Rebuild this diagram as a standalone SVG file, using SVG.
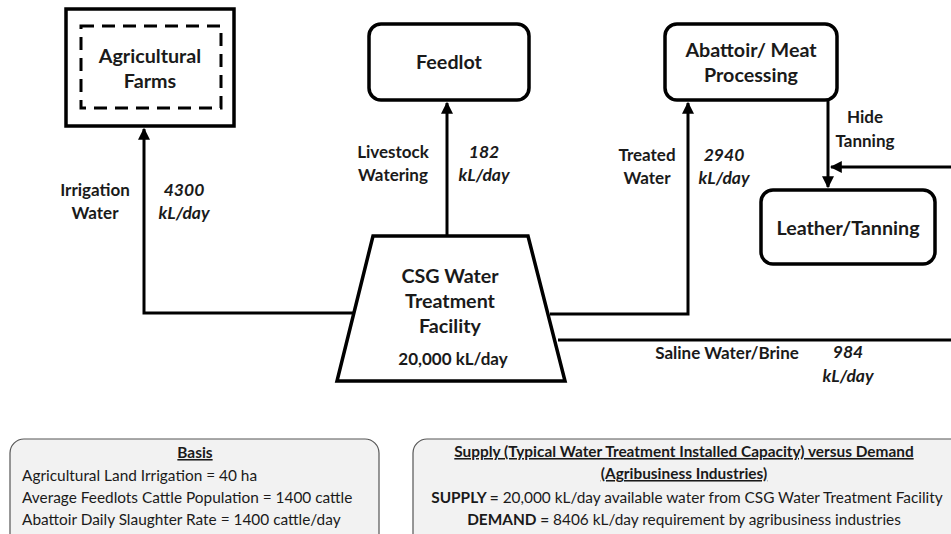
<svg xmlns="http://www.w3.org/2000/svg" width="951" height="534" viewBox="0 0 951 534">
<style>
text{font-family:Lato,"Liberation Sans",sans-serif;fill:#1a1a1a}
.n{font-size:19.7px;font-weight:bold;text-anchor:middle}
.l{font-size:17px;font-weight:bold;text-anchor:middle}
.v{font-size:17.5px;font-weight:bold;font-style:italic;text-anchor:middle}
.box{fill:#fff;stroke:#000;stroke-width:3.5}
.c{fill:none;stroke:#000;stroke-width:3}
.note{fill:#f2f2f2;stroke:#555;stroke-width:1.2}
.t{font-size:15.4px}
.h{font-size:15.4px;font-weight:bold;text-decoration:underline;text-anchor:middle}
</style>
<defs>
<marker id="ah" viewBox="0 0 10 10" refX="9" refY="5" markerWidth="4" markerHeight="4" orient="auto" markerUnits="strokeWidth">
<path d="M0,0 L10,5 L0,10 z" fill="#000"/>
</marker>
</defs>
<g id="connectors">
<path class="c" d="M353,313 H144 V129" marker-end="url(#ah)"/>
<path class="c" d="M447,236 V103" marker-end="url(#ah)"/>
<path class="c" d="M550,314 H688 V103" marker-end="url(#ah)"/>
<path class="c" d="M828,100 V187" marker-end="url(#ah)"/>
<path class="c" d="M951,167 H831" marker-end="url(#ah)"/>
<path class="c" d="M558,340 H951"/>
</g>
<g id="agricultural-farms">
<rect class="box" x="66" y="9" width="168" height="117"/>
<rect x="81" y="26" width="140" height="82" fill="none" stroke="#000" stroke-width="3" stroke-dasharray="13,8"/>
<text class="n" x="150" y="63">Agricultural</text>
<text class="n" x="150" y="88">Farms</text>
</g>
<g id="feedlot">
<rect class="box" x="369" y="24" width="160" height="76" rx="12"/>
<text class="n" x="449" y="69">Feedlot</text>
</g>
<g id="abattoir">
<rect class="box" x="665" y="24" width="172" height="76" rx="12"/>
<text class="n" x="751" y="57">Abattoir/ Meat</text>
<text class="n" x="751" y="82">Processing</text>
</g>
<g id="leather">
<rect class="box" x="761" y="190" width="174" height="74" rx="12"/>
<text class="n" x="848" y="235">Leather/Tanning</text>
</g>
<g id="csg-facility">
<path class="box" d="M373,236 H528 L565,381 H337 Z"/>
<text class="n" x="450" y="283">CSG Water</text>
<text class="n" x="450" y="308">Treatment</text>
<text class="n" x="450" y="333">Facility</text>
<text class="l" x="453" y="365">20,000 kL/day</text>
</g>
<g id="labels">
<text class="l" x="95" y="196">Irrigation</text>
<text class="l" x="95" y="219">Water</text>
<text class="v" x="184" y="196">4300</text>
<text class="v" x="184" y="219">kL/day</text>
<text class="l" x="393" y="158">Livestock</text>
<text class="l" x="393" y="181">Watering</text>
<text class="v" x="484" y="158">182</text>
<text class="v" x="484" y="181">kL/day</text>
<text class="l" x="647" y="161">Treated</text>
<text class="l" x="647" y="184">Water</text>
<text class="v" x="724" y="161">2940</text>
<text class="v" x="724" y="184">kL/day</text>
<text class="l" x="865" y="123">Hide</text>
<text class="l" x="865" y="147">Tanning</text>
<text class="l" x="727" y="359">Saline Water/Brine</text>
<text class="v" x="848" y="358">984</text>
<text class="v" x="848" y="382">kL/day</text>
</g>
<g id="basis">
<rect class="note" x="10" y="439" width="369" height="110" rx="14"/>
<text class="h" x="195" y="458">Basis</text>
<text class="t" x="22" y="481">Agricultural Land Irrigation = 40 ha</text>
<text class="t" x="22" y="503">Average Feedlots Cattle Population = 1400 cattle</text>
<text class="t" x="22" y="525">Abattoir Daily Slaughter Rate = 1400 cattle/day</text>
</g>
<g id="supply-demand">
<rect class="note" x="413" y="439" width="560" height="110" rx="14"/>
<text class="h" x="684" y="457">Supply (Typical Water Treatment Installed Capacity) versus Demand</text>
<text class="h" x="684" y="479">(Agribusiness Industries)</text>
<text class="t" x="687" y="503" text-anchor="middle"><tspan font-weight="bold">SUPPLY =</tspan> 20,000 kL/day available water from CSG Water Treatment Facility</text>
<text class="t" x="684" y="525" text-anchor="middle"><tspan font-weight="bold">DEMAND =</tspan> 8406 kL/day requirement by agribusiness industries</text>
</g>
</svg>
